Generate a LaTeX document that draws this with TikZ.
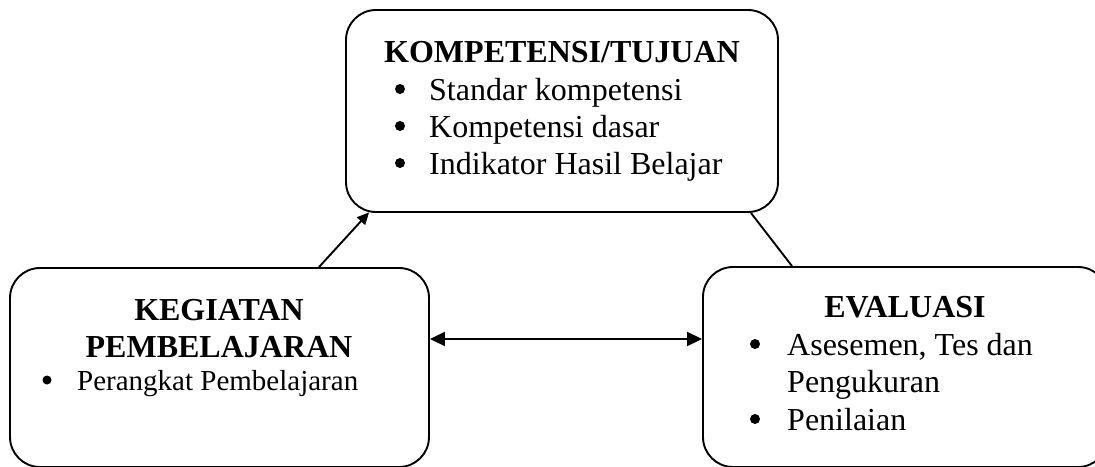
\documentclass[tikz,border=0pt]{standalone}
\usepackage{fontspec}
\setmainfont{Liberation Serif}
\usetikzlibrary{arrows.meta}
\begin{document}
\begin{tikzpicture}[x=1pt,y=1pt,
  box/.style={draw=black, line width=1.9pt, rounded corners=30pt, inner sep=0pt},
  ttl/.style={font=\fontsize{32}{38}\selectfont\bfseries, inner sep=0pt, anchor=base},
  itm/.style={font=\fontsize{32}{38}\selectfont, inner sep=0pt, anchor=base west},
  itms/.style={font=\fontsize{29}{35}\selectfont, inner sep=0pt, anchor=base west},
  dot/.style={circle, fill=black, inner sep=0pt, minimum size=10pt},
  conn/.style={line width=1.9pt}]
\clip (0,0) rectangle (1095,-466);
\node[box, minimum width=432pt, minimum height=202pt] (T) at (562,-111) {};
\node[box, minimum width=419pt, minimum height=199pt] (L) at (219.5,-367.5) {};
\node[box, minimum width=405pt, minimum height=200pt] (R) at (905.5,-367) {};
% texts
\node[ttl] (t0) at (562,-62) {KOMPETENSI/TUJUAN};
\node[dot] (b1) at (400,-89) {};
\node[itm] (t1) at (429,-100) {Standar kompetensi};
\node[dot] (b2) at (400,-126) {};
\node[itm] (t2) at (429,-137) {Kompetensi dasar};
\node[dot] (b3) at (400,-163) {};
\node[itm] (t3) at (429,-174) {Indikator Hasil Belajar};
\node[ttl] (l0) at (219,-320) {KEGIATAN};
\node[ttl] (l1) at (219,-357) {PEMBELAJARAN};
\node[dot, minimum size=9pt] (b4) at (47,-380) {};
\node[itms] (l2) at (77,-390) {Perangkat Pembelajaran};
\node[ttl] (r0) at (905,-317) {EVALUASI};
\node[dot] (b5) at (755,-344) {};
\node[itm] (r1) at (787,-355) {Asesemen, Tes dan};
\node[itm] (r2) at (787,-392) {Pengukuran};
\node[dot] (b6) at (755,-419) {};
\node[itm] (r3) at (787,-430) {Penilaian};
% connectors
\draw[conn, -{Triangle[length=12pt,width=11pt]}] ([xshift=99.5pt]L.north) -- ([shift={(24pt,0.6pt)}]T.south west);
\draw[conn] ([xshift=-28pt]T.south east) -- ([xshift=-113.5pt]R.north);
\draw[conn, {Triangle[length=15pt,width=14pt]}-{Triangle[length=15pt,width=14pt]}] ([yshift=28.5pt]L.east) -- ([yshift=28pt]R.west);
\end{tikzpicture}
\end{document}
